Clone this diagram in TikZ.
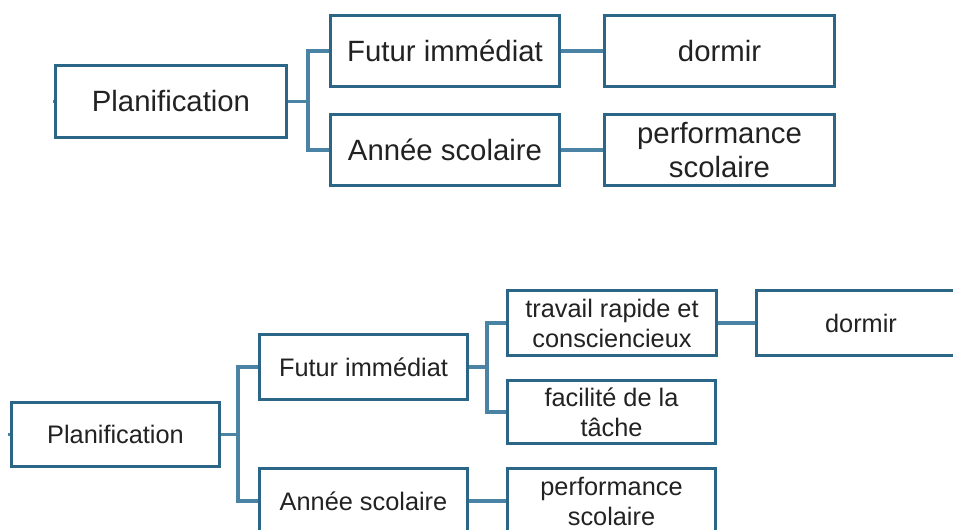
\documentclass[tikz,border=0pt]{standalone}
\usepackage{fontspec}
\setmainfont{Liberation Sans}
\definecolor{boxline}{HTML}{2C6687}
\definecolor{linkline}{HTML}{4A83A4}
\definecolor{ink}{HTML}{222222}
\tikzset{
  card/.style 2 args={draw=boxline, line width=1.4pt, fill=white, rectangle,
    inner sep=0pt, align=center, text=ink,
    minimum width=#1*0.75pt, minimum height=#2*0.75pt},
  bigtext/.style={font=\fontsize{22}{25}\selectfont},
  smalltext/.style={font=\fontsize{19}{22.5}\selectfont},
  link/.style={draw=linkline, line width=2.6pt}
}
\begin{document}
\begin{tikzpicture}[x=0.75pt, y=-0.75pt]
\useasboundingbox (0,0) rectangle (953,529);
\clip (0,0) rectangle (953,529);
\fill[white] (0,0) rectangle (953,529);

% ---------- upper tree ----------
\node[card={230}{71}, bigtext] (p1) at (171,101.5) {Planification};
\node[card={228}{70}, bigtext] (f1) at (445,51) {Futur immédiat};
\node[card={228}{70}, bigtext] (a1) at (445,150) {Année scolaire};
\node[card={229}{70}, bigtext] (d1) at (719.5,51) {dormir};
\node[card={229}{70}, bigtext] (s1) at (719.5,150) {performance\\scolaire};
\coordinate (t1) at (53,101.5);
\coordinate (j1) at (308,101.5);

\draw[link] (t1) -- (p1.west);
\draw[link] (p1.east) -- (j1);
\draw[link] (j1) |- (f1.west);
\draw[link] (j1) |- (a1.west);
\draw[link] (f1.east) -- (d1.west);
\draw[link] (a1.east) -- (s1.west);

% ---------- lower tree ----------
\node[card={207}{63}, smalltext] (p2) at (115.5,434.5) {Planification};
\node[card={207}{64}, smalltext] (f2) at (363.5,367) {Futur immédiat};
\node[card={207}{64}, smalltext] (a2) at (363.5,501) {Année scolaire};
\node[card={208}{64}, smalltext] (r2) at (612,323) {travail rapide et\\consciencieux};
\node[card={207}{62}, smalltext] (c2) at (611.5,412) {facilité de la\\tâche};
\node[card={207}{64}, smalltext] (s2) at (611.5,501) {performance\\scolaire};
\node[card={208}{64}, smalltext] (d2) at (861,323) {dormir};
\coordinate (t2) at (8,434.5);
\coordinate (j2) at (238,434.5);
\coordinate (k2) at (487,367);

\draw[link] (t2) -- (p2.west);
\draw[link] (p2.east) -- (j2);
\draw[link] (j2) |- (f2.west);
\draw[link] (j2) |- (a2.west);
\draw[link] (f2.east) -- (k2);
\draw[link] (k2) |- (r2.west);
\draw[link] (k2) |- (c2.west);
\draw[link] (r2.east) -- (d2.west);
\draw[link] (a2.east) -- (s2.west);

% redraw box outlines over the connector ends
\foreach \n in {p1,f1,a1,d1,s1,p2,f2,a2,r2,c2,s2,d2}
  \draw[boxline, line width=1.4pt] (\n.north west) rectangle (\n.south east);
\end{tikzpicture}
\end{document}
